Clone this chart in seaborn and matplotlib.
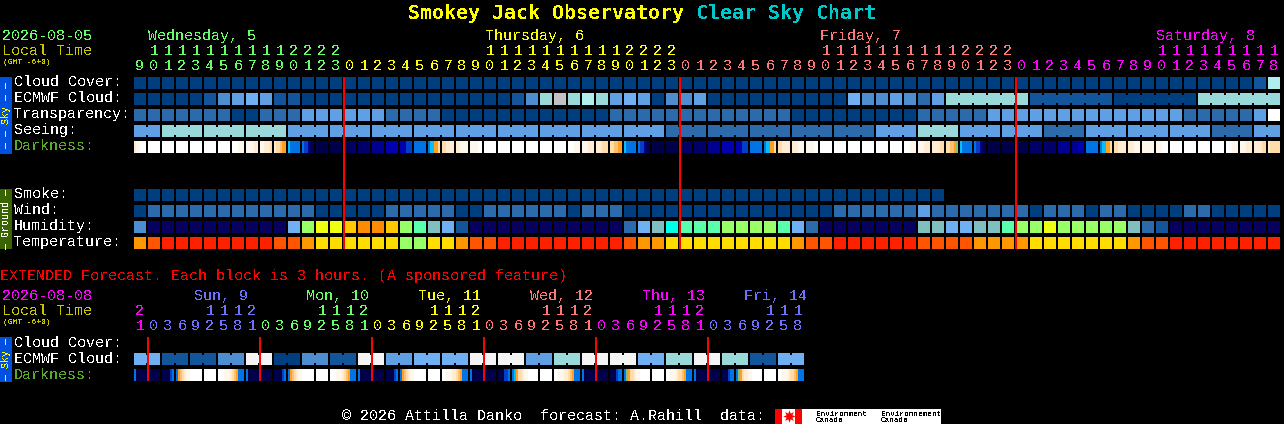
import numpy as np
import seaborn as sns
import matplotlib
matplotlib.use("Agg")
import matplotlib.pyplot as plt
from matplotlib.colors import ListedColormap
from matplotlib.patches import Rectangle

W, H = 1284, 424

# one character per colour, a space is an empty cell
palette = {
    "a": "#003f7f", "b": "#13559a", "c": "#2c6bab", "e": "#4c8ed0", "f": "#5f9fe3",
    "g": "#6fb0f2", "t": "#99d9d9", "u": "#b0eeee", "y": "#c2c2c2", "w": "#ffffff",
    "v": "#f4f4f4", "N": "#08005f", "l": "#99ff66", "Y": "#eeff11", "A": "#ffc800",
    "R": "#ff8c00", "M": "#59ffaa", "s": "#80bfbf", "C": "#00ffe6", "P": "#ff9800",
    "Q": "#ff5500", "r": "#ff2000", "G": "#ffdd00",
    # darkness scale
    "0": "#ffffff", "1": "#fff7ec", "2": "#ffecd2", "3": "#ffdcaa", "4": "#ffc070",
    "5": "#ffa020", "6": "#80c080", "7": "#00c0ff", "8": "#0073e6", "9": "#0040c8",
    "h": "#0000b0", "i": "#000090", "j": "#000068", "k": "#000048",
}
color_keys = list(palette)

cloud_cover = ("aaaaaaaaaa" "aaaaaaaaaa" "aaaaaaaaaa" "aaaaaaaaaa"
               "aaaaaaaaaa" "aaaaaaaaaa" "aaaaaaaaaa" "aaaaaaaaaa" "bu")
ecmwf_cloud = ("aaaaabefgf" "bbaaaaaaaa" "aaaaaaabet" "ytutfgfaee"
               "faaaaaaaaa" "ageefecftt" "ttttbbbbbb" "aaaaaatttt" "tt")
ecmwf_groups = [1] * 58 + [6, 6, 6, 6]
transparency = ("cccccccaac" "ccffffffcc" "ccaaaaaaaa" "aaaacccccc"
                "cccccccaaa" "aaaaaacccc" "cfffffffff" "fffffccccc" "fw")
seeing = ("fftttttttt" "tfffffffff" "ffffffffff" "ffffffffcc"
          "cccccccccc" "cccffftttf" "fffffcccff" "fffffffccc" "ff")
seeing_groups = [2] + [3] * 26 + [2]
smoke = ("aaaaaaaaaa" "aaaaaaaaaa" "aaaaaaaaaa" "aaaaaaaaaa" "aaaaaaaaaa" "aaaaaaaa")
wind = ("accccccccc" "cccaaaaacc" "cccaaccccc" "cacccaaaaa"
        "aaaaaaaaaa" "ccccccfccc" "ccccacccac" "caaaaccaaa" "aa")
humidity = ("eNNNNNNNNN" "NglYYARRAl" "MsgbNNNNNN" "NNNNNcgsCM"
            "MMllllMgcN" "NNNNNNssgg" "ssMllYllll" "lscbNNNNNN" "NN")
temperature = ("PQrrrrrrrr" "QQPGGGGGGl" "lGGPQQrrrr" "rrrrrQPPGG"
               "GGGGGGGPQQ" "rrrrrrQQQQ" "PPPPGGGGGG" "GPQQrrrrrr" "rr")

darkness = [
    "211000", "000000", "000000", "000000", "000000", "000000", "000000", "000111",
    "111122", "112223", "233455", "788888", "899ijk", "kkkkkk", "kkkkkk", "kkkjjj",
    "jjjjjj", "iiiiii", "hhhhhh", "hhh999", "888888", "877553", "332222", "221111",
    "111100", "000000", "000000", "000000", "000000", "000000", "000000", "000111",
    "111222", "222333", "334455", "788888", "899ijk", "kkkkkk", "kkkkkk", "kkjjjj",
    "jjjjjj", "iiiiii", "hhhhhh", "hhh999", "888888", "877553", "332222", "222111",
    "111100", "000000", "000000", "000000", "000000", "000000", "000000", "000111",
    "111222", "222233", "334456", "788888", "899ijk", "kkkkkk", "kkkkkk", "kkkkkk",
    "jjjjjj", "jjjjjj", "iiiiii", "iiihhh", "888888", "877553", "332222", "222111",
    "111111", "111000", "000000", "000000", "000000", "000000", "000111", "111222",
    "222233", "233333",
]

hours = [9, 10, 11, 12, 13, 14, 15, 16, 17, 18, 19, 20, 21, 22, 23,
         0, 1, 2, 3, 4, 5, 6, 7, 8, 9, 10, 11, 12, 13, 14, 15, 16, 17, 18, 19, 20, 21, 22, 23,
         0, 1, 2, 3, 4, 5, 6, 7, 8, 9, 10, 11, 12, 13, 14, 15, 16, 17, 18, 19, 20, 21, 22, 23,
         0, 1, 2, 3, 4, 5, 6, 7, 8, 9, 10, 11, 12, 13, 14, 15, 16, 17, 18]
hour_days = [0] * 15 + [1] * 24 + [2] * 24 + [3] * 19
day_colors = ["#66ff66", "#ffff00", "#ff7777", "#ff00ff"]
day_names = ["Wednesday, 5", "Thursday, 6", "Friday, 7", "Saturday, 8"]
day_x = [148, 485, 820, 1156]

ext_ecmwf = ("gg" "bb" "bb" "ee" "vv" "aa" "ee" "bb" "vv" "ff" "gg" "gg"
             "vv" "vv" "ff" "tt" "vv" "vv" "gg" "tt" "vv" "tt" "bb" "gg")
ext_groups = [2] * 24
ext_darkness = [
    "8kkkkkkkkkkkk", "kkkk98", "8543211000000", "000000", "0001112345888",
    "8kkkkkkkkkkkk", "kkkk98", "8543211000000", "000000", "0001112345888",
    "8kkkkkkkkkkkk", "kkkk98", "8543211000000", "000000", "0011122345888",
    "8kkkkkkkkkkkk", "kkk998", "8753321100000", "000000", "0011122345888",
    "8kkkkkkkkkkkk", "kkk988", "8653321100000", "000000", "0011123345888",
    "8kkkkkkkkkkkk", "kkk988", "8653221100000", "000000", "0011123345888",
]
ext_hours = [21,
             0, 3, 6, 9, 12, 15, 18, 21,
             0, 3, 6, 9, 12, 15, 18, 21,
             0, 3, 6, 9, 12, 15, 18, 21,
             0, 3, 6, 9, 12, 15, 18, 21,
             0, 3, 6, 9, 12, 15, 18, 21,
             0, 3, 6, 9, 12, 15, 18]
ext_hour_days = [0] + [1] * 8 + [2] * 8 + [3] * 8 + [4] * 8 + [5] * 8 + [6] * 7
ext_day_colors = ["#ff00ff", "#7070ff", "#66ff66", "#ffff00", "#ff7777", "#ff00ff", "#7070ff"]
ext_day_names = ["Sun, 9", "Mon, 10", "Tue, 11", "Wed, 12", "Thu, 13", "Fri, 14"]
ext_day_x = [194, 306, 418, 530, 642, 744]

sky_rows = ["Cloud Cover:", "ECMWF Cloud:", "Transparency:", "Seeing:", "Darkness:"]
ground_rows = ["Smoke:", "Wind:", "Humidity:", "Temperature:"]
ext_rows = ["Cloud Cover:", "ECMWF Cloud:", "Darkness:"]

sns.set_style("dark", {"figure.facecolor": "black", "axes.facecolor": "black"})
plt.rcParams["font.family"] = ["Liberation Mono"]
plt.rcParams["text.antialiased"] = False

fig = plt.figure(figsize=(W / 100, H / 100), dpi=100, facecolor="black")
cmap = ListedColormap([palette[k] for k in color_keys])


# Axes placed by pixel box, measured from the top left corner
def pixel_axes(x, y, w, h, zorder=1):
    ax = fig.add_axes([x / W, 1 - (y + h) / H, w / W, h / H], zorder=zorder)
    ax.patch.set_alpha(0)
    return ax


# Draws one line of 2px wide cells as a one row heatmap
def draw_strip(cells, y, h, x=134):
    values = [[color_keys.index(c) if c != " " else np.nan for c in cells]]
    ax = pixel_axes(x, y, len(cells) * 2, h)
    sns.heatmap(np.array(values), ax=ax, cmap=cmap, vmin=-0.5, vmax=len(color_keys) - 0.5,
                cbar=False, xticklabels=False, yticklabels=False)
    ax.set_axis_off()


# Draws a row of blocks, blocks of one group are joined by a narrow neck
def draw_blocks(codes, y, groups=None, x=134):
    if groups is None:
        groups = [1] * len(codes)
    cells, necks, pos = [], [], 0
    for n in groups:
        for k in range(n):
            cells += [codes[pos]] * 6 + [" "]
            necks += [" "] * 6 + [codes[pos] if k < n - 1 else " "]
            pos += 1
    draw_strip(cells, y, 12, x)
    if any(c != " " for c in necks):
        draw_strip(necks, y + 2, 8, x)


for row, codes, groups in [(77, cloud_cover, None), (93, ecmwf_cloud, ecmwf_groups),
                           (109, transparency, None), (125, seeing, seeing_groups),
                           (189, smoke, None), (205, wind, None),
                           (221, humidity, None), (237, temperature, None)]:
    draw_blocks(codes, row, groups)
draw_strip(" ".join(darkness) + " ", 141, 12)

draw_blocks(ext_ecmwf, 353, ext_groups)
draw_strip(" ".join(ext_darkness) + " ", 369, 12)

# everything else goes on a full figure axes in pixel units
top = fig.add_axes([0, 0, 1, 1], zorder=5)
top.set_xlim(0, W)
top.set_ylim(H, 0)
top.set_axis_off()
top.patch.set_alpha(0)

TEXT = 10.8


def label(x, y, s, color="white", size=TEXT, **kw):
    top.text(x, y, s, color=color, fontsize=size, va="baseline", **kw)


label(408, 19, "Smokey Jack Observatory", "#ffff00", 14.4, fontweight="bold", family="DejaVu Sans Mono")
label(696, 19, "Clear Sky Chart", "#00c8c8", 14.4, fontweight="bold", family="DejaVu Sans Mono")

label(2, 40, "2026-08-05", "#66ff66")
label(2, 55, "Local Time", "#c8c800")
label(3, 64, "(GMT -6+0)", "#c8c800", 5.8)
for name, dx, color in zip(day_names, day_x, day_colors):
    label(dx, 40, name, color)

for i, (hour, day) in enumerate(zip(hours, hour_days)):
    xc = 140 + 14 * i
    if hour >= 10:
        label(xc, 55, str(hour // 10), day_colors[day], ha="center")
    label(xc, 70, str(hour % 10), day_colors[day], ha="center")

for name, base in zip(sky_rows, [86, 102, 118, 134, 150]):
    label(14, base, name, "#5aaa28" if name == "Darkness:" else "white")
for name, base in zip(ground_rows, [198, 214, 230, 246]):
    label(14, base, name)

label(0, 280, "EXTENDED Forecast. Each block is 3 hours. (A sponsored feature)", "#ff0000")
label(2, 300, "2026-08-08", "#ff00ff")
label(2, 315, "Local Time", "#c8c800")
label(3, 324, "(GMT -6+0)", "#c8c800", 5.8)
for name, dx, color in zip(ext_day_names, ext_day_x, ext_day_colors[1:]):
    label(dx, 300, name, color)
for i, (hour, day) in enumerate(zip(ext_hours, ext_hour_days)):
    xc = 140 + 14 * i
    if hour >= 10:
        label(xc, 315, str(hour // 10), ext_day_colors[day], ha="center")
    label(xc, 330, str(hour % 10), ext_day_colors[day], ha="center")
for name, base in zip(ext_rows, [347, 363, 379]):
    label(14, base, name, "#5aaa28" if name == "Darkness:" else "white")

# side bars
for y0, y1, face, text, color in [(77, 154, "#0050e0", "\u2014 \u2014 Sky \u2014 \u2014", "#ffff00"),
                                  (189, 249, "#3a6400", "\u2014 Ground \u2014", "white"),
                                  (337, 382, "#0050e0", "\u2014 Sky \u2014", "#ffff00")]:
    top.add_patch(Rectangle((0, y0), 12, y1 - y0, facecolor=face, edgecolor="none"))
    top.text(6, (y0 + y1) / 2, text, color=color, fontsize=7.2, rotation=90,
             ha="center", va="center")

# red midnight lines
for i, hour in enumerate(hours):
    if hour == 0:
        top.vlines(134 + 14 * i, 77, 249, color="#ff0000", linewidth=1.44)
for i, hour in enumerate(ext_hours):
    if hour == 0:
        top.vlines(134 + 14 * i, 337, 381, color="#ff0000", linewidth=1.44)

# footer and logo
label(342, 420, "\u00a9 2026 Attilla Danko  forecast: A.Rahill  data:")
top.add_patch(Rectangle((775, 409), 166, 15, facecolor="white", edgecolor="none"))
top.add_patch(Rectangle((775, 409), 7, 15, facecolor="#ff0000", edgecolor="none"))
top.add_patch(Rectangle((795, 409), 7, 15, facecolor="#ff0000", edgecolor="none"))
top.plot([788.5], [416], marker=(8, 1), markersize=9, color="#ff0000", markeredgewidth=0)
for x, word in [(816, "Environment"), (881, "Environnement")]:
    label(x, 415.5, word, "black", 5.5)
    label(x, 422, "Canada", "black", 5.5)

fig.savefig("out.png", dpi=100, facecolor="black")
